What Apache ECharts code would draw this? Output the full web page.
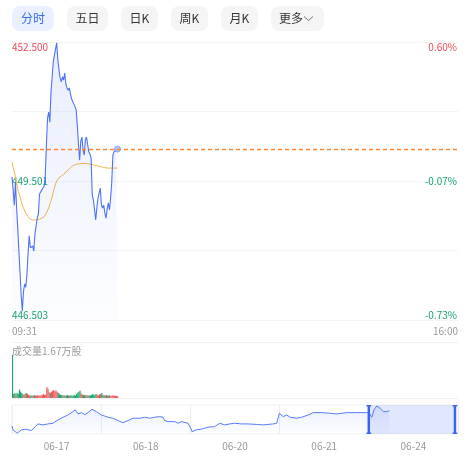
<!DOCTYPE html>
<html><head><meta charset="utf-8">
<script src="https://cdn.jsdelivr.net/npm/echarts@6/dist/echarts.min.js"></script>
<style>html,body{margin:0;padding:0;background:#fff}#c{width:470px;height:462px}</style>
</head><body><div id="c"></div>
<script>
// ---------- data ----------
const tabLabels = ['分时', '五日', '日K', '周K', '月K', '更多'];
const volumeTitle = '成交量1.67万股';
const sessionStart = '09:31';
const sessionEnd = '16:00';
const leftTickLabels = ['446.503', '449.501', '452.500'];
const rightTickLabels = ['-0.73%', '-0.07%', '0.60%'];
const priceAxisRange = [446.503, 452.5];
const preClose = 450.19;

const priceData = [
  449.59, 449.31, 448.98, 449.48, 448.94, 448.49, 447.99, 447.54, 447.04, 446.70,
  447.11, 447.28, 447.21, 447.47, 447.93, 448.32, 448.06, 448.03, 448.10, 447.99,
  448.36, 448.53, 448.70, 448.79, 449.22, 449.26, 449.31, 449.33, 449.39, 449.61,
  450.28, 450.86, 450.99, 450.77, 451.42, 451.46, 452.07, 452.22, 452.35, 452.48,
  452.11, 451.90, 451.72, 451.64, 451.75, 451.68, 451.83, 451.59, 451.51, 451.46,
  451.51, 451.38, 451.27, 451.23, 451.16, 451.10, 451.03, 450.69, 450.28, 449.95,
  450.36, 450.45, 450.17, 450.06, 450.39, 450.45, 450.28, 450.13, 450.08, 450.00,
  449.20, 449.09, 448.88, 448.66, 448.92, 449.13, 449.24, 449.35, 448.98, 448.92,
  448.98, 448.81, 448.70, 448.90, 449.03, 448.88, 449.13, 449.48, 450.06, 450.13,
  450.15, 450.17, 450.19
];
const avgData = [
  449.91, 449.80, 449.70, 449.59, 449.46, 449.33, 449.24, 449.16, 449.07, 448.98,
  448.92, 448.88, 448.81, 448.77, 448.73, 448.70, 448.68, 448.67, 448.66, 448.66,
  448.66, 448.66, 448.67, 448.68, 448.68, 448.69, 448.70, 448.71, 448.73, 448.75,
  448.81, 448.85, 448.92, 449.01, 449.07, 449.16, 449.26, 449.35, 449.44, 449.50,
  449.54, 449.57, 449.59, 449.61, 449.63, 449.64, 449.67, 449.70, 449.72, 449.74,
  449.77, 449.79, 449.81, 449.83, 449.84, 449.85, 449.86, 449.87, 449.87, 449.87,
  449.88, 449.88, 449.88, 449.88, 449.88, 449.88, 449.87, 449.87, 449.87, 449.86,
  449.85, 449.85, 449.84, 449.83, 449.83, 449.83, 449.82, 449.81, 449.81, 449.80,
  449.80, 449.79, 449.79, 449.78, 449.78, 449.78, 449.78, 449.78, 449.78, 449.78,
  449.78, 449.78, 449.78
];
const volumeData = [
  16700, 1600, 1900, 1500, 2000, 1700, 3300, 2500, 1900, 1500,
  1400, 1600, 1900, 1700, 1200, 1000, 1100, 900, 1000, 1200,
  900, 1000, 1100, 900, 1200, 1000, 1300, 1500, 1200, 1400,
  4300, 3600, 2200, 1900, 2400, 2800, 3100, 2600, 2900, 2300,
  1900, 1500, 1300, 1200, 1000, 1100, 900, 1000, 1200, 900,
  1000, 1100, 900, 1000, 1200, 1000, 1600, 2000, 2400, 2800,
  1800, 1400, 1100, 1300, 1000, 1200, 900, 1100, 1000, 1200,
  1500, 1400, 1200, 1600, 1300, 1100, 1400, 1600, 1900, 1200,
  1100, 1000, 1200, 900, 1000, 1100, 800, 1000, 1100, 900,
  800, 900, 700
];
const fiveDayDates = ['06-17', '06-18', '06-20', '06-21', '06-24'];
// [day position, price]
const fiveDayLine = [
  [0.000, 441.90], [0.011, 439.78], [0.059, 438.03], [0.104, 439.78], [0.160, 440.15],
  [0.216, 439.41], [0.291, 442.96], [0.348, 442.43], [0.404, 442.96], [0.460, 443.33],
  [0.516, 445.08], [0.572, 446.51], [0.628, 447.73], [0.684, 449.48], [0.710, 450.38],
  [0.740, 448.26], [0.777, 448.95], [0.815, 447.89], [0.852, 448.95], [0.897, 450.75],
  [0.945, 449.48], [1.001, 447.73], [1.020, 446.83], [1.076, 446.51], [1.132, 445.98],
  [1.188, 444.71], [1.244, 443.65], [1.300, 444.71], [1.357, 445.98], [1.432, 445.98],
  [1.488, 446.51], [1.544, 445.98], [1.600, 446.51], [1.656, 446.83], [1.693, 446.51],
  [1.712, 444.71], [1.749, 444.18], [1.824, 444.18], [1.861, 443.33], [1.898, 444.18],
  [1.973, 443.33], [1.992, 442.96], [2.004, 440.68], [2.018, 438.88], [2.066, 439.78],
  [2.122, 440.15], [2.197, 441.21], [2.272, 441.53], [2.329, 443.33], [2.346, 443.65],
  [2.385, 442.43], [2.441, 442.96], [2.497, 443.33], [2.571, 442.96], [2.646, 442.96],
  [2.740, 442.70], [2.817, 442.43], [2.929, 442.96], [2.967, 443.33], [2.997, 448.63],
  [3.012, 449.48], [3.041, 446.83], [3.080, 447.73], [3.117, 446.51], [3.192, 445.98],
  [3.248, 446.51], [3.322, 447.73], [3.378, 448.95], [3.472, 448.95], [3.565, 448.63],
  [3.640, 448.26], [3.752, 448.95], [3.864, 448.95], [3.977, 448.95], [4.006, 448.63],
  [4.033, 446.51], [4.058, 450.38], [4.089, 452.50], [4.126, 451.28], [4.163, 449.48],
  [4.182, 448.63], [4.201, 449.48], [4.230, 450.01]
];
const zoomWindow = [[4.0, 4.966]];

// ---------- derived ----------
function pad(n) { return (n < 10 ? '0' : '') + n; }
function toMin(s) { const p = s.split(':'); return +p[0] * 60 + +p[1]; }
const times = [];
for (let m = toMin(sessionStart); m <= toMin(sessionEnd); m++) times.push(pad(Math.floor(m / 60)) + ':' + pad(m % 60));

const RED = '#f24957', GREEN = '#17a46c';
const volBars = volumeData.map((v, i) => {
  const prev = i === 0 ? preClose : priceData[i - 1];
  return { value: v, itemStyle: { color: priceData[i] >= prev ? '#f25454' : '#1ea66d' } };
});
const lastIdx = priceData.length - 1;

const FONT = '"Noto Sans CJK SC", sans-serif';
const tabX = [12, 67, 121, 171, 221, 271];
const tabW = [42, 41, 37, 37, 37, 53];
const graphics = tabLabels.map((t, i) => {
  const active = i === 0;
  const isMore = i === tabLabels.length - 1;
  const children = [
    { type: 'rect', shape: { x: 0, y: 0, width: tabW[i], height: 25, r: 8 },
      style: { fill: active ? '#eaf0ff' : '#f5f5f5' } },
    { type: 'text', style: { text: t, x: isMore ? 20 : tabW[i] / 2, y: 12.5, align: 'center', verticalAlign: 'middle',
      fontSize: 12, fontFamily: FONT, fill: active ? '#3b6cf3' : '#333' } }
  ];
  if (isMore) children.push({ type: 'polyline', shape: { points: [[33, 10.5], [37.5, 14.5], [42, 10.5]] },
    style: { stroke: '#777', lineWidth: 1, fill: null } });
  return { type: 'group', left: tabX[i], top: 6, children };
});
graphics.push({ type: 'text', left: 12, top: 346,
  style: { text: volumeTitle, fontSize: 10, fontFamily: FONT, fill: '#999' } });

const dashStyle = { type: [4, 3], color: '#ff8533', width: 1.4, opacity: 1 };

const chart = echarts.init(document.getElementById('c'));
chart.setOption({
  animation: false,
  textStyle: { fontFamily: FONT },
  graphic: graphics,
  grid: [
    { left: 12, right: 12, top: 42, height: 278 },
    { left: 12, right: 12, top: 342, height: 56 },
    { left: 12, right: 12, top: 405, height: 29, show: true, borderColor: '#f0f1f5', borderWidth: 1, backgroundColor: 'transparent' }
  ],
  xAxis: [
    { type: 'category', gridIndex: 0, data: times, boundaryGap: false,
      axisLine: { show: false }, axisTick: { show: false }, splitLine: { show: false },
      axisLabel: { interval: (i) => i === 0 || i === times.length - 1, color: '#999', fontSize: 10, margin: 6,
        alignMinLabel: 'left', alignMaxLabel: 'right', showMinLabel: true, showMaxLabel: true } },
    { type: 'category', gridIndex: 1, data: times, boundaryGap: true,
      axisLine: { show: false }, axisTick: { show: false }, axisLabel: { show: false }, splitLine: { show: false } },
    { type: 'value', gridIndex: 2, min: 0, max: fiveDayDates.length, interval: 1,
      axisLine: { show: false }, axisTick: { show: false }, axisLabel: { show: false },
      splitLine: { show: true, lineStyle: { color: '#eceef3' } } },
    { type: 'category', gridIndex: 2, data: fiveDayDates, boundaryGap: true, position: 'bottom',
      axisLine: { show: false }, axisTick: { show: false }, splitLine: { show: false },
      axisLabel: { color: '#999', fontSize: 10, margin: 7 } }
  ],
  yAxis: [
    { type: 'value', gridIndex: 0, min: priceAxisRange[0], max: priceAxisRange[1], show: false, splitLine: { show: false } },
    { type: 'value', gridIndex: 0, min: 0, max: 4, interval: 1, position: 'left',
      axisLine: { show: false }, axisTick: { show: false },
      splitLine: { show: true, lineStyle: { color: '#f3f4f6' } },
      axisLabel: { inside: true, margin: 0, fontSize: 10,
        formatter: (v) => (v % 2 === 0 ? leftTickLabels[v / 2] : ''),
        color: (v) => (Number(v) === 4 ? RED : GREEN),
        verticalAlignMinLabel: 'bottom', verticalAlignMaxLabel: 'top' } },
    { type: 'value', gridIndex: 0, min: 0, max: 4, interval: 1, position: 'right',
      axisLine: { show: false }, axisTick: { show: false }, splitLine: { show: false },
      axisLabel: { inside: true, margin: 1, fontSize: 10,
        formatter: (v) => (v % 2 === 0 ? rightTickLabels[v / 2] : ''),
        color: (v) => (Number(v) === 4 ? RED : GREEN),
        verticalAlignMinLabel: 'bottom', verticalAlignMaxLabel: 'top' } },
    { type: 'value', gridIndex: 1, min: 0, max: 21800, interval: 21800,
      axisLine: { show: false }, axisTick: { show: false }, axisLabel: { show: false },
      splitLine: { show: true, lineStyle: { color: '#f1f2f5' } } },
    { type: 'value', gridIndex: 2, min: 437.6, max: 453.0, show: false, splitLine: { show: false } }
  ],
  series: [
    { type: 'line', xAxisIndex: 0, yAxisIndex: 0, data: priceData, showSymbol: false, z: 3,
      lineStyle: { color: '#5072f5', width: 1.1 },
      areaStyle: { origin: 'start', color: new echarts.graphic.LinearGradient(0, 0, 0, 1, [
        { offset: 0, color: 'rgba(80,114,245,0.18)' }, { offset: 1, color: 'rgba(80,114,245,0.02)' }]) } },
    { type: 'line', xAxisIndex: 0, yAxisIndex: 0, data: avgData, showSymbol: false, z: 2,
      lineStyle: { color: '#f6b443', width: 1 },
      markLine: { silent: true, symbol: ['none', 'none'], label: { show: false },
        lineStyle: dashStyle, itemStyle: { color: '#ff8533' }, emphasis: { disabled: true },
        data: [{ yAxis: preClose, lineStyle: dashStyle }] } },
    { type: 'scatter', xAxisIndex: 0, yAxisIndex: 0, data: [[lastIdx, priceData[lastIdx]]], symbolSize: 6, z: 4,
      itemStyle: { color: '#a8b8f8', borderColor: '#7e95f5', borderWidth: 1 } },
    { type: 'bar', xAxisIndex: 1, yAxisIndex: 3, data: volBars, barCategoryGap: '0%' },
    { type: 'line', xAxisIndex: 2, yAxisIndex: 4, data: fiveDayLine, showSymbol: false, z: 2,
      lineStyle: { color: '#5a7cf7', width: 1 },
      areaStyle: { origin: 'start', color: new echarts.graphic.LinearGradient(0, 0, 0, 1, [
        { offset: 0, color: 'rgba(90,124,247,0.18)' }, { offset: 1, color: 'rgba(90,124,247,0.02)' }]) } },
    { type: 'custom', xAxisIndex: 2, yAxisIndex: 4, data: zoomWindow, z: 3, silent: true,
      renderItem: (params, api) => {
        const cs = params.coordSys;
        const x0 = api.coord([api.value(0), 445])[0];
        const x1 = api.coord([api.value(1), 445])[0];
        const top = cs.y, h = cs.height, bot = cs.y + cs.height;
        const hc = '#3a63f0';
        const handle = (x) => [
          { type: 'rect', shape: { x: x - 1.25, y: top, width: 2.5, height: h }, style: { fill: hc } },
          { type: 'rect', shape: { x: x - 2.5, y: top, width: 5, height: 1.5, r: 0.7 }, style: { fill: hc } },
          { type: 'rect', shape: { x: x - 2.5, y: bot - 1.5, width: 5, height: 1.5, r: 0.7 }, style: { fill: hc } }
        ];
        return { type: 'group', children: [
          { type: 'rect', shape: { x: x0, y: top, width: x1 - x0, height: h }, style: { fill: 'rgba(70,110,245,0.16)' } }
        ].concat(handle(x0), handle(x1)) };
      } }
  ]
});
</script></body></html>
